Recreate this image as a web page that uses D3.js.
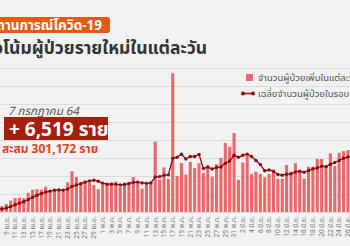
<!DOCTYPE html>
<html>
<head>
<meta charset="utf-8">
<script src="https://cdn.jsdelivr.net/npm/d3@7"></script>
<style>
  html, body { margin: 0; padding: 0; background: #f2f2f2; }
  svg { display: block; font-family: "Noto Sans Thai", "Noto Sans", sans-serif; }
</style>
</head>
<body>
<script>
// daily new cases, 7 Apr - 27 Jun 2021
var days = [
  "7 เม.ย.","8 เม.ย.","9 เม.ย.","10 เม.ย.","11 เม.ย.","12 เม.ย.","13 เม.ย.","14 เม.ย.","15 เม.ย.","16 เม.ย.",
  "17 เม.ย.","18 เม.ย.","19 เม.ย.","20 เม.ย.","21 เม.ย.","22 เม.ย.","23 เม.ย.","24 เม.ย.","25 เม.ย.","26 เม.ย.",
  "27 เม.ย.","28 เม.ย.","29 เม.ย.","30 เม.ย.",
  "1 พ.ค.","2 พ.ค.","3 พ.ค.","4 พ.ค.","5 พ.ค.","6 พ.ค.","7 พ.ค.","8 พ.ค.","9 พ.ค.","10 พ.ค.",
  "11 พ.ค.","12 พ.ค.","13 พ.ค.","14 พ.ค.","15 พ.ค.","16 พ.ค.","17 พ.ค.","18 พ.ค.","19 พ.ค.","20 พ.ค.",
  "21 พ.ค.","22 พ.ค.","23 พ.ค.","24 พ.ค.","25 พ.ค.","26 พ.ค.","27 พ.ค.","28 พ.ค.","29 พ.ค.","30 พ.ค.","31 พ.ค.",
  "1 มิ.ย.","2 มิ.ย.","3 มิ.ย.","4 มิ.ย.","5 มิ.ย.","6 มิ.ย.","7 มิ.ย.","8 มิ.ย.","9 มิ.ย.","10 มิ.ย.",
  "11 มิ.ย.","12 มิ.ย.","13 มิ.ย.","14 มิ.ย.","15 มิ.ย.","16 มิ.ย.","17 มิ.ย.","18 มิ.ย.","19 มิ.ย.","20 มิ.ย.",
  "21 มิ.ย.","22 มิ.ย.","23 มิ.ย.","24 มิ.ย.","25 มิ.ย.","26 มิ.ย.","27 มิ.ย."
];

var newCases = [
  334, 405, 559, 789, 967, 985, 965, 1335, 1543, 1582,
  1547, 1767, 1390, 1443, 1458, 1470, 2070, 2839, 2438, 2048,
  2179, 2012, 1871, 1583,
  1891, 1940, 2041, 2112, 1763, 2044, 2052, 2419, 2101, 1630,
  1919, 1983, 4887, 2256, 3095, 2300, 9635, 2490, 3394, 2600,
  3481, 3052, 3382, 2713, 3226, 2455, 3323, 3759, 4801, 4528, 5485,
  2230, 3440, 3886, 2640, 2800, 2640, 2410, 2640, 2800, 2310,
  2310, 3260, 2800, 3380, 2915, 2330, 3145, 3145, 3680, 3680,
  3145, 4070, 3200, 4120, 4230, 4300, 3995
];

var avg7 = [
  152, 206, 274, 374, 500, 613, 715, 858, 1020, 1167,
  1275, 1389, 1447, 1515, 1533, 1522, 1592, 1777, 1873, 1967,
  2072, 2151, 2208, 2139,
  2003, 1932, 1931, 1921, 1886, 1911, 1978, 2053, 2076, 2017,
  1990, 2021, 2427, 2456, 2553, 2581, 3725, 3807, 4008, 3681,
  3856, 3850, 4005, 3016, 3121, 2987, 3090, 3130, 3380, 3544, 3940,
  3797, 3938, 4018, 3859, 3573, 3303, 2864, 2922, 2831, 2606,
  2559, 2624, 2647, 2786, 2825, 2758, 2877, 2996, 3056, 3182,
  3149, 3314, 3438, 3577, 3732, 3821, 3866
];

var tickLabels = [
  "9 เม.ย.","11 เม.ย.","13 เม.ย.","15 เม.ย.","17 เม.ย.","19 เม.ย.","21 เม.ย.","23 เม.ย.","25 เม.ย.","27 เม.ย.","29 เม.ย.",
  "1 พ.ค.","3 พ.ค.","5 พ.ค.","7 พ.ค.","9 พ.ค.","11 พ.ค.","13 พ.ค.","15 พ.ค.","17 พ.ค.","19 พ.ค.","21 พ.ค.",
  "23 พ.ค.","25 พ.ค.","27 พ.ค.","29 พ.ค.","31 พ.ค.",
  "2 มิ.ย.","4 มิ.ย.","6 มิ.ย.","8 มิ.ย.","10 มิ.ย.","12 มิ.ย.","14 มิ.ย.","16 มิ.ย.","18 มิ.ย.","20 มิ.ย.",
  "22 มิ.ย.","24 มิ.ย.","26 มิ.ย."
];

var gridTicks = [0, 1250, 2500, 3750, 5000, 6250, 7500, 8750, 10000];

function init() {
    var w = 350;
    var h = 246;
    var step = 4.38;
    var x0 = 6.3 - 2.5 * step;   // centre of "9 เม.ย." sits at x = 6.3

    var svg = d3.select("body")
                .append("svg")
                .attr("width", w)
                .attr("height", h);

    var xScale = d3.scaleBand()
                   .domain(days)
                   .range([x0, x0 + days.length * step])
                   .paddingInner(0.3)
                   .paddingOuter(0.15);

    var yScale = d3.scaleLinear()
                   .domain([0, 10000])
                   .range([212, 68]);

    // grid lines
    svg.append("g")
       .selectAll("line")
       .data(gridTicks)
       .enter()
       .append("line")
       .attr("x1", 0)
       .attr("x2", w)
       .attr("y1", function (d) { return Math.round(yScale(d)) + 0.5; })
       .attr("y2", function (d) { return Math.round(yScale(d)) + 0.5; })
       .attr("stroke", "#dcdcdc")
       .attr("stroke-width", 1);

    // bars
    svg.append("g")
       .selectAll("rect")
       .data(newCases)
       .enter()
       .append("rect")
       .attr("x", function (d, i) { return xScale(days[i]); })
       .attr("y", function (d) { return yScale(d); })
       .attr("width", xScale.bandwidth())
       .attr("height", function (d) { return yScale(0) - yScale(d); })
       .attr("fill", "#e8696b");

    // 7 day average line
    var line = d3.line()
                 .x(function (d, i) { return xScale(days[i]) + xScale.bandwidth() / 2; })
                 .y(function (d) { return yScale(d); });

    svg.append("path")
       .datum(avg7)
       .attr("d", line)
       .attr("fill", "none")
       .attr("stroke", "#8e0b0b")
       .attr("stroke-width", 1.3);

    svg.append("g")
       .selectAll("circle")
       .data(avg7)
       .enter()
       .append("circle")
       .attr("cx", function (d, i) { return xScale(days[i]) + xScale.bandwidth() / 2; })
       .attr("cy", function (d) { return yScale(d); })
       .attr("r", 1.7)
       .attr("fill", "#8e0b0b");

    // x axis labels
    var xAxis = d3.axisBottom(xScale).tickValues(tickLabels).tickSize(0);
    var gx = svg.append("g")
                .attr("transform", "translate(0,215)")
                .call(xAxis);
    gx.select(".domain").remove();
    gx.selectAll("text")
      .attr("transform", "rotate(-90)")
      .attr("x", 0)
      .attr("y", 0)
      .attr("dx", "-0.2em")
      .attr("dy", "0.35em")
      .attr("text-anchor", "end")
      .attr("font-family", "\"Noto Sans Thai\", \"Noto Sans\", sans-serif")
      .attr("font-size", "6.5px")
      .attr("fill", "#777");

    // header tag
    svg.append("rect")
       .attr("x", -10).attr("y", 17)
       .attr("width", 120).attr("height", 16)
       .attr("rx", 3)
       .attr("fill", "#e65a10");
    svg.append("text")
       .attr("x", 102).attr("y", 30)
       .attr("text-anchor", "end")
       .attr("font-size", "13.5px")
       .attr("font-weight", "bold")
       .attr("fill", "#fff")
       .text("สถานการณ์โควิด-19");

    svg.append("text")
       .attr("x", 207).attr("y", 54)
       .attr("text-anchor", "end")
       .attr("font-size", "17.5px")
       .attr("font-weight", "bold")
       .attr("fill", "#333")
       .text("แนวโน้มผู้ป่วยรายใหม่ในแต่ละวัน");

    // legend
    svg.append("rect")
       .attr("x", 246).attr("y", 74)
       .attr("width", 7).attr("height", 7)
       .attr("fill", "#e8696b");
    svg.append("text")
       .attr("x", 258).attr("y", 81)
       .attr("font-size", "9.5px")
       .attr("fill", "#555")
       .text("จำนวนผู้ป่วยเพิ่มในแต่ละวัน");

    svg.append("line")
       .attr("x1", 243).attr("x2", 253)
       .attr("y1", 93.5).attr("y2", 93.5)
       .attr("stroke", "#8e0b0b")
       .attr("stroke-width", 1.5);
    svg.selectAll(".legdot")
       .data([243, 253])
       .enter()
       .append("circle")
       .attr("cx", function (d) { return d; })
       .attr("cy", 93.5)
       .attr("r", 2)
       .attr("fill", "#8e0b0b");
    svg.append("text")
       .attr("x", 258).attr("y", 97)
       .attr("font-size", "9.5px")
       .attr("fill", "#555")
       .text("เฉลี่ยจำนวนผู้ป่วยในรอบ 7 วัน");

    // today's figures
    svg.append("text")
       .attr("x", 8).attr("y", 115)
       .attr("font-size", "11.5px")
       .attr("font-style", "italic")
       .attr("fill", "#555")
       .text("7 กรกฎาคม 64");

    svg.append("rect")
       .attr("x", 4).attr("y", 117)
       .attr("width", 104).attr("height", 23)
       .attr("fill", "#a61f0b");
    svg.append("text")
       .attr("x", 9).attr("y", 136)
       .attr("font-size", "19px")
       .attr("font-weight", "bold")
       .attr("fill", "#fff")
       .text("+ 6,519 ราย");

    svg.append("text")
       .attr("x", 2).attr("y", 153)
       .attr("font-size", "12px")
       .attr("font-weight", "bold")
       .attr("fill", "#e2411e")
       .text("สะสม 301,172 ราย");
}

window.onload = init;
</script>
</body>
</html>
